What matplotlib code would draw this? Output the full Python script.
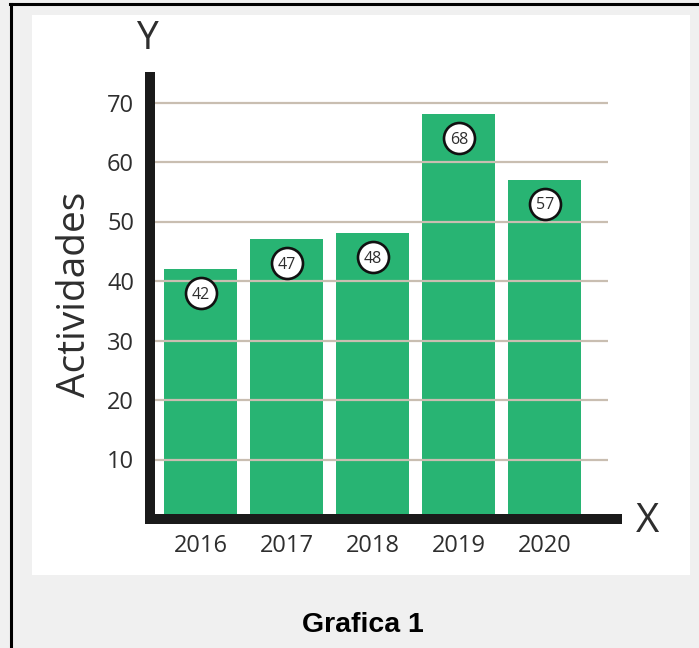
import matplotlib
matplotlib.use("Agg")
import matplotlib.pyplot as plt
from matplotlib.patches import Rectangle
from matplotlib.lines import Line2D
from matplotlib.transforms import offset_copy

# ---- data ----
years = ["2016", "2017", "2018", "2019", "2020"]
actividades = [42, 47, 48, 68, 57]
yticks = [10, 20, 30, 40, 50, 60, 70]

W, H = 699, 648
fig = plt.figure(figsize=(W / 100, H / 100), dpi=100)
fig.patch.set_facecolor("#f0f0f0")

def fx(px):
    return px / W

def fy(py):
    return 1 - py / H

# white panel
fig.add_artist(Rectangle((fx(32), fy(575)), fx(690) - fx(32), fy(15) - fy(575),
                         transform=fig.transFigure, facecolor="white",
                         edgecolor="none", zorder=0))
# black frame (top & left)
fig.add_artist(Line2D([fx(10), 1.0], [fy(4), fy(4)], transform=fig.transFigure,
                      color="black", lw=2.2, zorder=1))
fig.add_artist(Line2D([fx(11), fx(11)], [fy(4), 0.0], transform=fig.transFigure,
                      color="black", lw=2.2, zorder=1))

FONT = ["Open Sans", "DejaVu Sans"]
TXT = "#2e2e2e"

ax_l, ax_r, ax_b, ax_t = 150, 617, 519, 77
ax = fig.add_axes([fx(ax_l), fy(ax_b), fx(ax_r) - fx(ax_l), fy(ax_t) - fy(ax_b)])
ax.set_facecolor("none")
px_per_unit = 5.95
ax.set_ylim(0, (ax_b - ax_t) / px_per_unit)
spacing = 86.1
ax.set_xlim(-(200.5 - ax_l) / spacing, (ax_r - 200.5) / spacing)

x = list(range(len(years)))
ax.bar(x, actividades, width=73 / spacing, color="#28b473", zorder=2)

# gridlines (drawn over bars)
ax.hlines(yticks, 0, (608 - ax_l) / (ax_r - ax_l), transform=ax.get_yaxis_transform(),
          colors="#c9beb1", lw=1.6, zorder=3)

# value bubbles
trans = offset_copy(ax.transData, fig=fig, x=0, y=-24, units="dots")
trans_txt = offset_copy(ax.transData, fig=fig, x=0, y=-24 - 5.5, units="dots")
ax.scatter(x, actividades, s=(31 * 0.72) ** 2, facecolor="white", edgecolor="#111111",
           linewidth=1.9, transform=trans, zorder=4, clip_on=False)
for xi, v in zip(x, actividades):
    ax.text(xi, v, str(v), transform=trans_txt, ha="center", va="baseline",
            fontsize=11.5, color=TXT, family=FONT, zorder=5)

# axes spines
for s in ["top", "right"]:
    ax.spines[s].set_visible(False)
for s in ["left", "bottom"]:
    ax.spines[s].set_linewidth(7.2)
    ax.spines[s].set_color("#1a1a1a")
    ax.spines[s].set_capstyle("projecting")
    ax.spines[s].set_zorder(3.5)

ax.set_xticks(x)
ax.set_xticklabels(years)
ax.set_yticks(yticks)
ax.set_yticklabels([str(t) for t in yticks])
ax.tick_params(axis="both", length=0, labelsize=17, labelcolor=TXT)
ax.tick_params(axis="y", pad=11.5)
ax.tick_params(axis="x", pad=11)
for lab in ax.get_xticklabels() + ax.get_yticklabels():
    lab.set_family(FONT)

# axis titles
fig.text(fx(75), fy(294), "Actividades", rotation=90, ha="center", va="center",
         fontsize=28, color=TXT, family=FONT)
fig.text(fx(147), fy(39), "Y", ha="center", va="center", fontsize=28,
         color=TXT, family=FONT)
fig.text(fx(647), fy(522), "X", ha="center", va="center", fontsize=29,
         color=TXT, family=FONT)

# caption
fig.text(fx(363), fy(625), "Grafica 1", ha="center", va="center", fontsize=20.5,
         fontweight="bold", color="black", family=["Liberation Sans", "DejaVu Sans"])

fig.savefig("out.png", dpi=100, facecolor=fig.get_facecolor())
